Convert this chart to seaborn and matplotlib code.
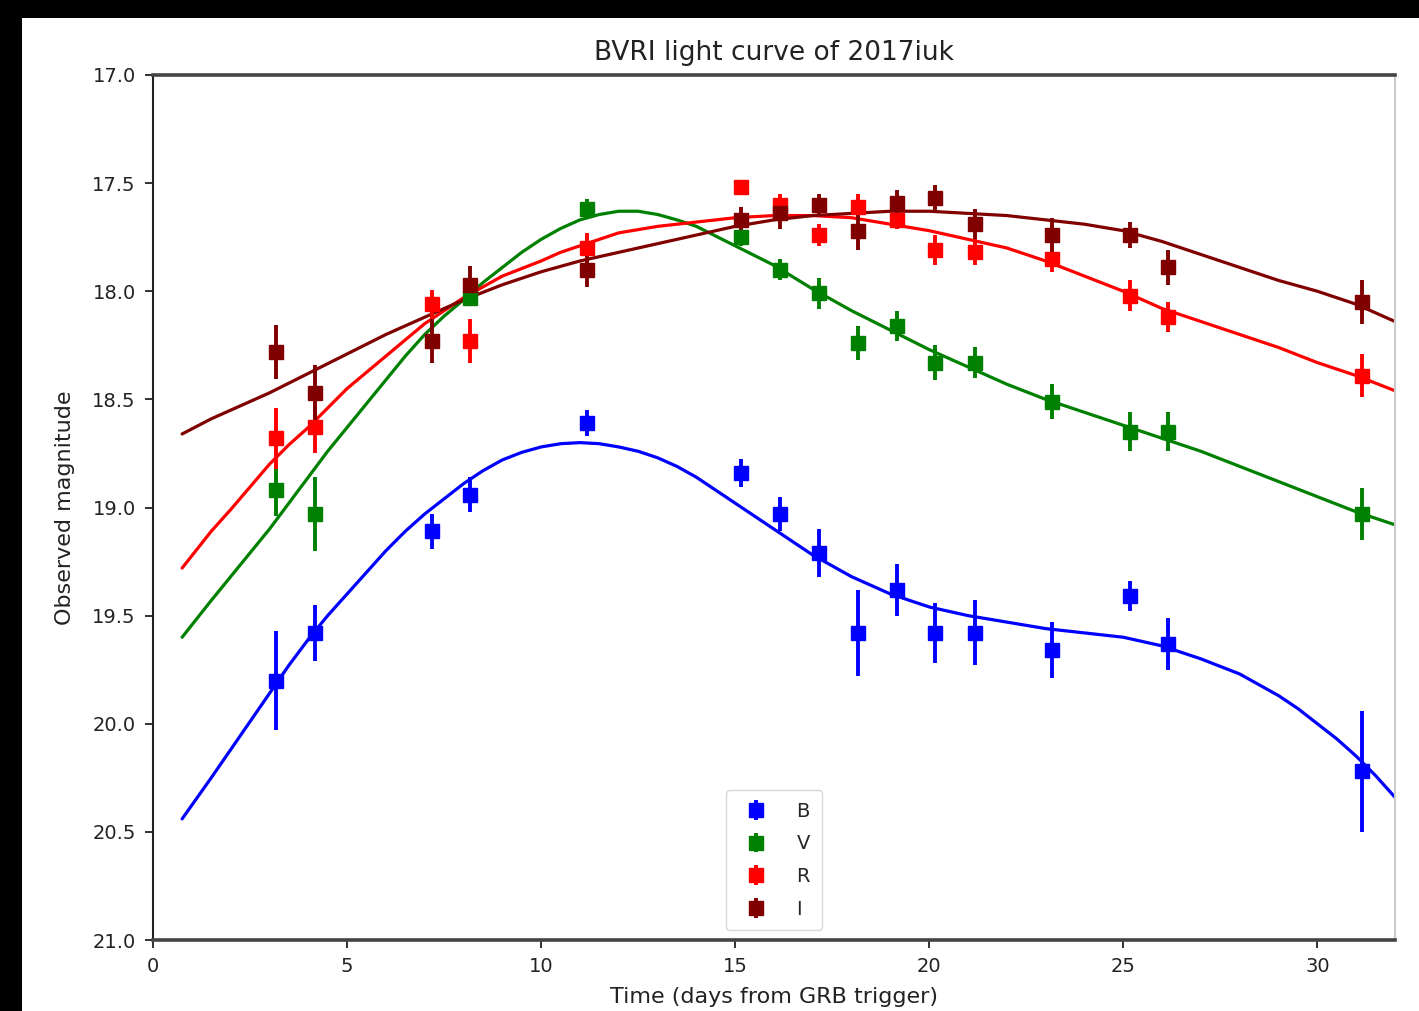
import matplotlib
matplotlib.use("Agg")
import matplotlib.pyplot as plt
from matplotlib.patches import Rectangle
import seaborn as sns
import pandas as pd

# ---------------- data ----------------
bands = ["B", "V", "R", "I"]
band_colors = ["blue", "green", "red", "maroon"]

t_B = [3.17, 4.17, 7.18, 8.18, 11.18, 15.15, 16.15, 17.17, 18.16, 19.16, 20.16, 21.17, 23.15, 25.16, 26.15, 31.14]
m_B = [19.80, 19.58, 19.11, 18.94, 18.61, 18.84, 19.03, 19.21, 19.58, 19.38, 19.58, 19.58, 19.66, 19.41, 19.63, 20.22]
e_B = [0.23, 0.13, 0.08, 0.08, 0.06, 0.065, 0.08, 0.11, 0.20, 0.12, 0.14, 0.15, 0.13, 0.07, 0.12, 0.28]

t_V = [3.17, 4.17, 8.18, 11.18, 15.15, 16.15, 17.17, 18.16, 19.16, 20.16, 21.17, 23.15, 25.16, 26.15, 31.14]
m_V = [18.92, 19.03, 18.03, 17.62, 17.75, 17.90, 18.01, 18.24, 18.16, 18.33, 18.33, 18.51, 18.65, 18.65, 19.03]
e_V = [0.12, 0.17, 0.03, 0.045, 0.04, 0.05, 0.07, 0.08, 0.07, 0.08, 0.07, 0.08, 0.09, 0.09, 0.12]

t_R = [3.17, 4.17, 7.18, 8.18, 11.18, 15.15, 16.15, 17.17, 18.16, 19.16, 20.16, 21.17, 23.15, 25.16, 26.15, 31.14]
m_R = [18.68, 18.63, 18.06, 18.23, 17.80, 17.52, 17.60, 17.74, 17.61, 17.67, 17.81, 17.82, 17.85, 18.02, 18.12, 18.39]
e_R = [0.14, 0.12, 0.065, 0.10, 0.07, 0.03, 0.05, 0.05, 0.06, 0.04, 0.07, 0.06, 0.06, 0.07, 0.07, 0.10]

t_I = [3.17, 4.17, 7.18, 8.18, 11.18, 15.15, 16.15, 17.17, 18.16, 19.16, 20.16, 21.17, 23.15, 25.16, 26.15, 31.14]
m_I = [18.28, 18.47, 18.23, 17.97, 17.90, 17.67, 17.64, 17.60, 17.72, 17.59, 17.57, 17.69, 17.74, 17.74, 17.89, 18.05]
e_I = [0.125, 0.13, 0.10, 0.085, 0.08, 0.06, 0.07, 0.05, 0.09, 0.06, 0.06, 0.07, 0.08, 0.06, 0.08, 0.10]

# fitted curves (every half day)
t_fit = [0.75, 1.5, 2, 2.5, 3, 3.5, 4, 4.5, 5, 5.5, 6, 6.5, 7, 7.5, 8, 8.5, 9, 9.5, 10, 10.5,
         11, 11.5, 12, 12.5, 13, 13.5, 14, 14.5, 15, 15.5, 16, 16.5, 17, 17.5, 18, 18.5,
         19, 19.5, 20, 20.5, 21, 21.5, 22, 22.5, 23, 23.5, 24, 24.5, 25, 25.5, 26, 26.5,
         27, 27.5, 28, 28.5, 29, 29.5, 30, 30.5, 31, 31.5, 32]
fit_B = [20.44, 20.25, 20.12, 19.99, 19.86, 19.73, 19.61, 19.50, 19.40, 19.30, 19.20, 19.11,
         19.03, 18.96, 18.89, 18.83, 18.78, 18.745, 18.72, 18.705, 18.70, 18.705, 18.72, 18.74,
         18.77, 18.81, 18.86, 18.92, 18.98, 19.04, 19.10, 19.16, 19.22, 19.27, 19.32, 19.36,
         19.40, 19.43, 19.46, 19.48, 19.50, 19.515, 19.53, 19.545, 19.56, 19.57, 19.58, 19.59,
         19.60, 19.62, 19.64, 19.67, 19.70, 19.735, 19.77, 19.82, 19.87, 19.93, 20.00, 20.07,
         20.15, 20.24, 20.34]
fit_V = [19.60, 19.43, 19.32, 19.21, 19.10, 18.98, 18.86, 18.74, 18.63, 18.52, 18.41, 18.30,
         18.20, 18.115, 18.04, 17.96, 17.89, 17.82, 17.76, 17.71, 17.67, 17.645, 17.63, 17.63,
         17.645, 17.67, 17.70, 17.745, 17.79, 17.835, 17.88, 17.935, 17.99, 18.04, 18.09, 18.135,
         18.18, 18.225, 18.27, 18.31, 18.35, 18.39, 18.43, 18.465, 18.50, 18.53, 18.56, 18.59,
         18.62, 18.65, 18.68, 18.71, 18.74, 18.775, 18.81, 18.845, 18.88, 18.915, 18.95, 18.985,
         19.02, 19.05, 19.08]
fit_R = [19.28, 19.11, 19.01, 18.905, 18.80, 18.71, 18.63, 18.54, 18.45, 18.375, 18.30, 18.225,
         18.15, 18.09, 18.03, 17.98, 17.93, 17.895, 17.86, 17.82, 17.79, 17.76, 17.73, 17.715,
         17.70, 17.69, 17.68, 17.67, 17.66, 17.655, 17.65, 17.65, 17.65, 17.655, 17.66, 17.675,
         17.69, 17.705, 17.72, 17.74, 17.76, 17.78, 17.80, 17.83, 17.86, 17.895, 17.93, 17.965,
         18.00, 18.04, 18.08, 18.11, 18.14, 18.17, 18.20, 18.23, 18.26, 18.295, 18.33, 18.36,
         18.39, 18.425, 18.46]
fit_I = [18.66, 18.59, 18.55, 18.51, 18.47, 18.425, 18.38, 18.335, 18.29, 18.245, 18.20, 18.16,
         18.12, 18.08, 18.04, 18.005, 17.97, 17.94, 17.91, 17.885, 17.86, 17.84, 17.82, 17.80,
         17.78, 17.76, 17.74, 17.72, 17.70, 17.685, 17.67, 17.66, 17.65, 17.645, 17.64, 17.635,
         17.63, 17.63, 17.63, 17.635, 17.64, 17.645, 17.65, 17.66, 17.67, 17.68, 17.69, 17.705,
         17.72, 17.745, 17.77, 17.80, 17.83, 17.86, 17.89, 17.92, 17.95, 17.975, 18.00, 18.03,
         18.06, 18.10, 18.14]

title = "BVRI light curve of 2017iuk"
xlabel = "Time (days from GRB trigger)"
ylabel = "Observed magnitude"
xticks = [0, 5, 10, 15, 20, 25, 30]
yticks = [17.0, 17.5, 18.0, 18.5, 19.0, 19.5, 20.0, 20.5, 21.0]

# ---------------- plot ----------------
sns.set_style("ticks")
plt.rcParams["font.family"] = ["DejaVu Sans"]

W, H = 1419, 1011
fig = plt.figure(figsize=(W / 100, H / 100), dpi=100, facecolor="black")
fig.add_artist(Rectangle((22 / W, 0), 1 - 22 / W, 1 - 18 / H, transform=fig.transFigure,
                         facecolor="white", edgecolor="none", zorder=-10))
ax = fig.add_axes([153 / W, 1 - 940 / H, (1395 - 153) / W, (940 - 75) / H])
ax.set_facecolor("white")

fits = {"B": fit_B, "V": fit_V, "R": fit_R, "I": fit_I}
obs = {"B": (t_B, m_B, e_B), "V": (t_V, m_V, e_V), "R": (t_R, m_R, e_R), "I": (t_I, m_I, e_I)}

for band, col in zip(bands, band_colors):
    df = pd.DataFrame({"t": t_fit, "m": fits[band]})
    sns.lineplot(data=df, x="t", y="m", ax=ax, color=col, lw=2.3, legend=False, zorder=2)

for band, col in zip(bands, band_colors):
    t, m, e = obs[band]
    ax.errorbar(t, m, yerr=e, fmt="s", color=col, ms=10, elinewidth=2.8, capsize=0,
                label=band, zorder=3)

ax.set_xlim(0, 32)
ax.set_ylim(21.0, 17.0)
ax.set_xticks(xticks)
ax.set_yticks(yticks)
ax.set_xticklabels([str(v) for v in xticks])
ax.set_yticklabels([f"{v:.1f}" for v in yticks])
ax.tick_params(axis="both", labelsize=14, length=5.5, width=1.3, direction="out",
               colors="#222222", pad=7)
ax.set_title(title, fontsize=19, pad=11, color="#222222")
ax.set_xlabel(xlabel, fontsize=16, labelpad=8, color="#222222")
ax.set_ylabel(ylabel, fontsize=16, labelpad=12, color="#222222")

for side in ["top", "bottom"]:
    ax.spines[side].set_linewidth(2.6)
    ax.spines[side].set_color("#444444")
ax.spines["left"].set_linewidth(1.5)
ax.spines["left"].set_color("#222222")
ax.spines["right"].set_linewidth(1.5)
ax.spines["right"].set_color("#cccccc")

leg = ax.legend(loc="lower center", fontsize=14, frameon=True, labelspacing=0.7,
                handletextpad=1.2, borderpad=0.6, handlelength=1.8)
leg.get_frame().set_edgecolor("#cccccc")

fig.savefig("out.png", dpi=100, facecolor=fig.get_facecolor())
